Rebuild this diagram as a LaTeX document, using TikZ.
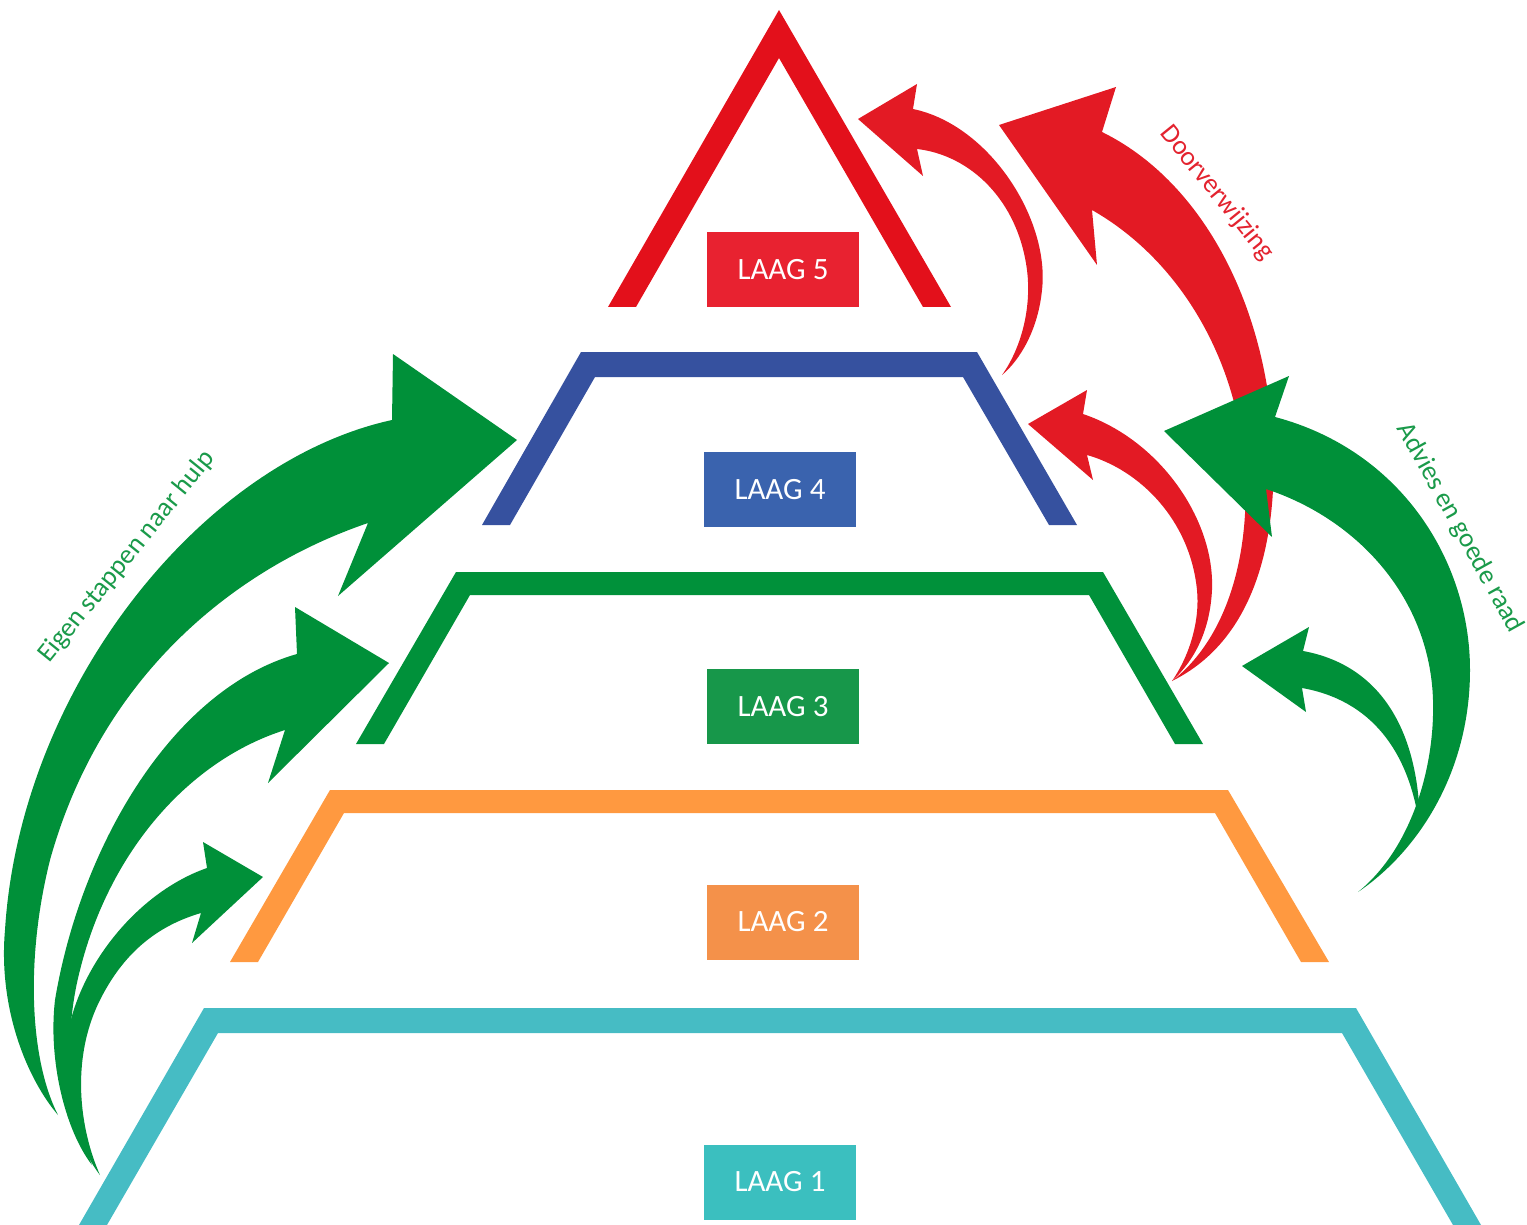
\documentclass[tikz,border=0pt]{standalone}
\usepackage{fontspec}
\setmainfont{Carlito}
\definecolor{c5}{HTML}{E3101B}
\definecolor{b5}{HTML}{E82230}
\definecolor{c4}{HTML}{36519F}
\definecolor{b4}{HTML}{3A63AE}
\definecolor{c3}{HTML}{00913A}
\definecolor{b3}{HTML}{17974A}
\definecolor{c2}{HTML}{FF9940}
\definecolor{b2}{HTML}{F4914A}
\definecolor{c1}{HTML}{46BCC4}
\definecolor{b1}{HTML}{3BBFBF}
\definecolor{ag}{HTML}{009039}
\definecolor{ar}{HTML}{E31A24}
\definecolor{tg}{HTML}{1A9A4A}
\definecolor{tr}{HTML}{E3232F}
\begin{document}
\begin{tikzpicture}[x=1pt,y=-1pt,
  lbl/.style={text=white,minimum width=152pt,minimum height=75pt,inner sep=0pt,font=\fontsize{31}{37}\selectfont},
  side/.style={font=\fontsize{27}{32}\selectfont,inner sep=0pt}]
\useasboundingbox (0,0) rectangle (1527,1225);
% layers
\fill[c5] (608,307) -- (779,10) -- (951,307) -- (923,307) -- (779,58) -- (636,307) -- cycle;
\fill[c4] (482,525) -- (581,352) -- (977,352) -- (1077,525) -- (1049,525) -- (963,377) -- (595,377) -- (510,525) -- cycle;
\fill[c3] (356,744) -- (456,572) -- (1103,572) -- (1203,744) -- (1175,744) -- (1089,595) -- (470,595) -- (384,744) -- cycle;
\fill[c2] (230,962) -- (330,790) -- (1228,790) -- (1329,962) -- (1301,962) -- (1215,813) -- (344,813) -- (258,962) -- cycle;
\fill[c1] (79,1225) -- (204,1008) -- (1356,1008) -- (1481,1225) -- (1453,1225) -- (1342,1033) -- (218,1033) -- (107,1225) -- cycle;
% labels
\node[lbl,fill=b5] (l5) at (783,269.5) {LAAG 5};
\node[lbl,fill=b4] (l4) at (780,489.5) {LAAG 4};
\node[lbl,fill=b3] (l3) at (783,706.5) {LAAG 3};
\node[lbl,fill=b2] (l2) at (783,922) {LAAG 2};
\node[lbl,fill=b1] (l1) at (780,1182) {LAAG 1};
% left green arrows
\fill[ag] (517,440) -- (393,354) -- (392,420)
  .. controls (200,462) and (20,690) .. (5,930)
  .. controls (-2,1010) and (28,1080) .. (58,1115)
  .. controls (30,1060) and (25,960) .. (50,860)
  .. controls (100,680) and (230,570) .. (368,523)
  -- (338,596) -- cycle;
\fill[ag] (389,663) -- (295,607) -- (297,654)
  .. controls (170,690) and (80,850) .. (55,1000)
  .. controls (48,1060) and (65,1130) .. (92,1165)
  .. controls (70,1110) and (62,1040) .. (80,970)
  .. controls (110,850) and (190,760) .. (285,730)
  -- (268,783) -- cycle;
\fill[ag] (263,877) -- (203,842) -- (207,868)
  .. controls (130,895) and (70,980) .. (66,1050)
  .. controls (64,1100) and (80,1150) .. (100,1175)
  .. controls (80,1130) and (70,1060) .. (100,1000)
  .. controls (125,950) and (160,925) .. (201,913)
  -- (192,943) -- cycle;
% red arrows
\fill[ar] (858,119) -- (917,84) -- (913,109)
  .. controls (990,125) and (1050,220) .. (1042,290)
  .. controls (1038,330) and (1020,360) .. (1002,375)
  .. controls (1020,350) and (1032,310) .. (1027,270)
  .. controls (1018,200) and (970,155) .. (917,149)
  -- (923,176) -- cycle;
\fill[ar] (999,125) -- (1116,87) -- (1102,132)
  .. controls (1200,180) and (1265,300) .. (1273,440)
  .. controls (1278,540) and (1255,640) .. (1172,681)
  .. controls (1225,640) and (1250,560) .. (1245,470)
  .. controls (1238,360) and (1180,260) .. (1092,210)
  -- (1097,265) -- cycle;
\fill[ar] (1028,424) -- (1087,390) -- (1083,414)
  .. controls (1160,440) and (1215,520) .. (1212,590)
  .. controls (1210,630) and (1195,660) .. (1172,681)
  .. controls (1190,655) and (1200,620) .. (1197,590)
  .. controls (1190,520) and (1140,470) .. (1087,455)
  -- (1093,480) -- cycle;
% right green arrows
\fill[ag] (1164,431) -- (1289,376) -- (1275,417)
  .. controls (1400,450) and (1470,560) .. (1470,670)
  .. controls (1470,770) and (1420,850) .. (1358,892)
  .. controls (1410,850) and (1435,770) .. (1433,700)
  .. controls (1430,600) and (1360,520) .. (1266,489)
  -- (1272,537) -- cycle;
\fill[ag] (1242,666) -- (1309,627) -- (1303,651)
  .. controls (1380,665) and (1420,730) .. (1420,830)
  .. controls (1410,750) and (1370,700) .. (1302,688)
  -- (1306,712) -- cycle;
% side texts
\node[side,text=tg,rotate=51] (t1) at (127,557) {Eigen stappen naar hulp};
\node[side,text=tr,rotate=-51] (t2) at (1217,193) {Doorverwijzing};
\node[side,text=tg,rotate=-61] (t3) at (1460,528) {Advies en goede raad};
\end{tikzpicture}
\end{document}
